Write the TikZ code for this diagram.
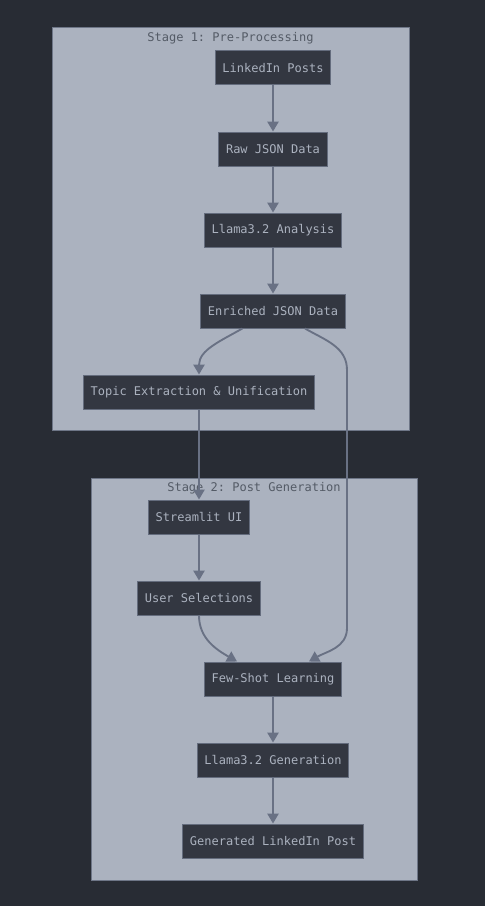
\documentclass[tikz,border=0pt]{standalone}
\usepackage{fontspec}
\setmonofont{DejaVu Sans Mono}
\usetikzlibrary{positioning,arrows.meta}

\definecolor{bgdark}{RGB}{40,44,52}
\definecolor{clusterfill}{RGB}{171,178,191}
\definecolor{clusterline}{RGB}{110,118,135}
\definecolor{boxfill}{RGB}{51,55,65}
\definecolor{boxline}{RGB}{100,108,125}
\definecolor{boxtext}{RGB}{171,178,191}
\definecolor{titletext}{RGB}{84,91,102}
\definecolor{edgecol}{RGB}{105,113,132}

\tikzset{
  box/.style={draw=boxline, line width=0.75pt, fill=boxfill, text=boxtext,
    font=\ttfamily\fontsize{9}{10}\selectfont, minimum height=25.5pt, inner xsep=5.3pt},
  cluster/.style={draw=clusterline, line width=0.75pt, fill=clusterfill},
  title/.style={text=titletext, font=\ttfamily\fontsize{9}{10}\selectfont, inner sep=0pt},
  arr/.style={draw=edgecol, line width=1.4pt, -{Triangle[width=8.5pt,length=7.5pt]}},
}

\begin{document}
\begin{tikzpicture}[x=0.75pt, y=-0.75pt, node distance=34.5pt]

    \fill[bgdark] (0,0) rectangle (485,906);
    \useasboundingbox (0,0) rectangle (485,906);

    % Clusters
    \draw[cluster] (52,28) rectangle (409,430);
    \draw[cluster] (91,478) rectangle (417,880);
    \node[title] (stage1) at (230.5,38.5) {Stage 1: Pre-Processing};
    \node[title] (stage2) at (254,488.5) {Stage 2: Post Generation};

    % Define nodes
    \node[box]                                   (posts)     at (273,68) {LinkedIn Posts};
    \node[box, below=of posts]                   (raw)       {Raw JSON Data};
    \node[box, below=of raw]                     (analysis)  {Llama3.2 Analysis};
    \node[box, below=of analysis]                (enriched)  {Enriched JSON Data};
    \node[box, below=of enriched, xshift=-55.5pt] (topic)    {Topic Extraction \& Unification};
    \node[box]                                   (streamlit) at (199,517) {Streamlit UI};
    \node[box, below=of streamlit]               (user)      {User Selections};
    \node[box, below=of user, xshift=55.5pt]     (fewshot)   {Few-Shot Learning};
    \node[box, below=of fewshot]                 (generation) {Llama3.2 Generation};
    \node[box, below=of generation]              (post)      {Generated LinkedIn Post};

    \coordinate (bend-a) at (347,370);
    \coordinate (bend-b) at (347,628);

    % Connect the nodes
    \draw[arr] (posts) -- (raw);
    \draw[arr] (raw) -- (analysis);
    \draw[arr] (analysis) -- (enriched);
    \draw[arr] ([xshift=-23pt]enriched.south) to[out=-150,in=90] (topic.north);
    \draw[arr] ([xshift=24pt]enriched.south) to[out=-30,in=90] (bend-a) -- (bend-b)
               to[out=-90,in=30] ([xshift=27pt]fewshot.north);
    \draw[arr] (topic) -- (streamlit);
    \draw[arr] (streamlit) -- (user);
    \draw[arr] (user.south) to[out=-90,in=150] ([xshift=-27pt]fewshot.north);
    \draw[arr] (fewshot) -- (generation);
    \draw[arr] (generation) -- (post);

\end{tikzpicture}
\end{document}
